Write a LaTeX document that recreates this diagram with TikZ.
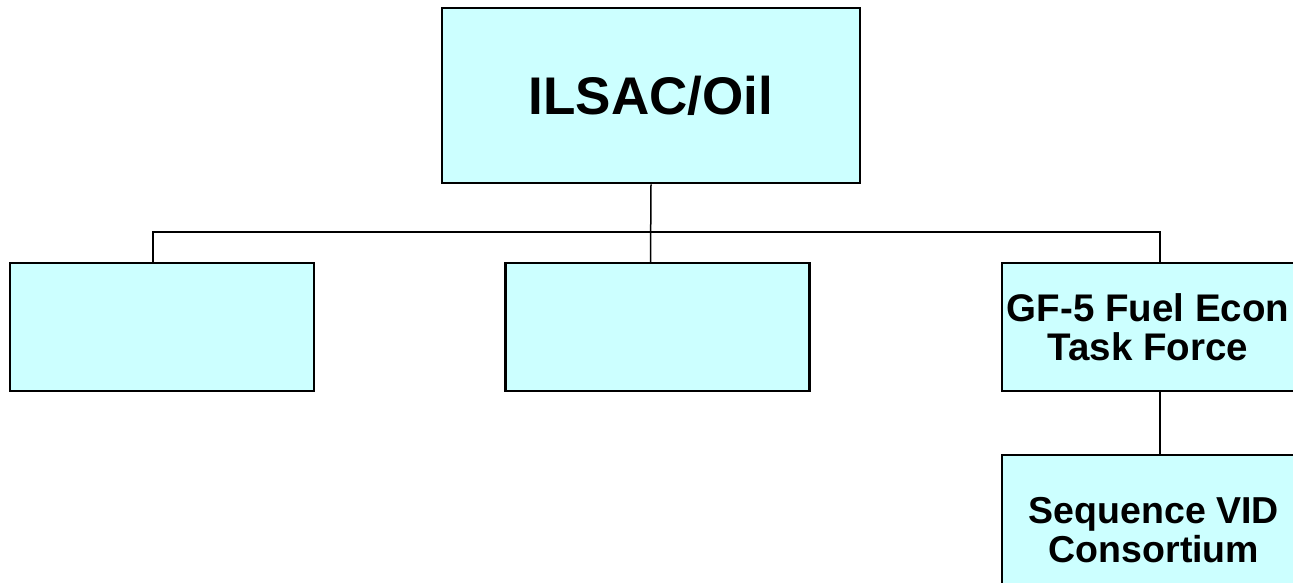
\documentclass[tikz,border=0pt]{standalone}
\usepackage{fontspec}
\setmainfont{Liberation Sans}
\begin{document}
\begin{tikzpicture}[x=1pt, y=-1pt]
      \useasboundingbox (0,0) rectangle (1293,582);
      \clip (0,0) rectangle (1293,582);
      \definecolor{boxfill}{HTML}{CCFFFF}
      \begin{scope}[every node/.style={rectangle, draw=black, line width=2.5pt, fill=boxfill,
          inner sep=0pt, align=center, font=\bfseries\fontsize{37.5}{39}\selectfont,
          minimum width=304pt, minimum height=128pt}]
        \node (Oil) [minimum width=418pt, minimum height=175pt,
          font=\bfseries\fontsize{53}{56}\selectfont] at (651,95.5) {ILSAC/Oil};
        \node (L) at (162,327) {};
        \node (M) at (657.5,327) {};
        \node (GF) [minimum width=292pt, font=\bfseries\fontsize{38.5}{39}\selectfont]
          at (1148,327) {GF-5 Fuel Econ\\Task Force};
        \node (VID) [minimum height=150pt] at (1154,530) {Sequence VID\\Consortium};
      \end{scope}
      \coordinate (bar) at (0,232);
      \begin{scope}[every path/.style={draw=black, line width=1.5pt}]
        \draw (Oil.south) -- ([xshift=-7pt]M.north);
        \draw ([xshift=-9pt]L.north) |- ([xshift=12pt]GF.north |- bar) -- ([xshift=12pt]GF.north);
        \draw ([xshift=12pt]GF.south) -- ([xshift=6pt]VID.north);
      \end{scope}
    \end{tikzpicture}
\end{document}
